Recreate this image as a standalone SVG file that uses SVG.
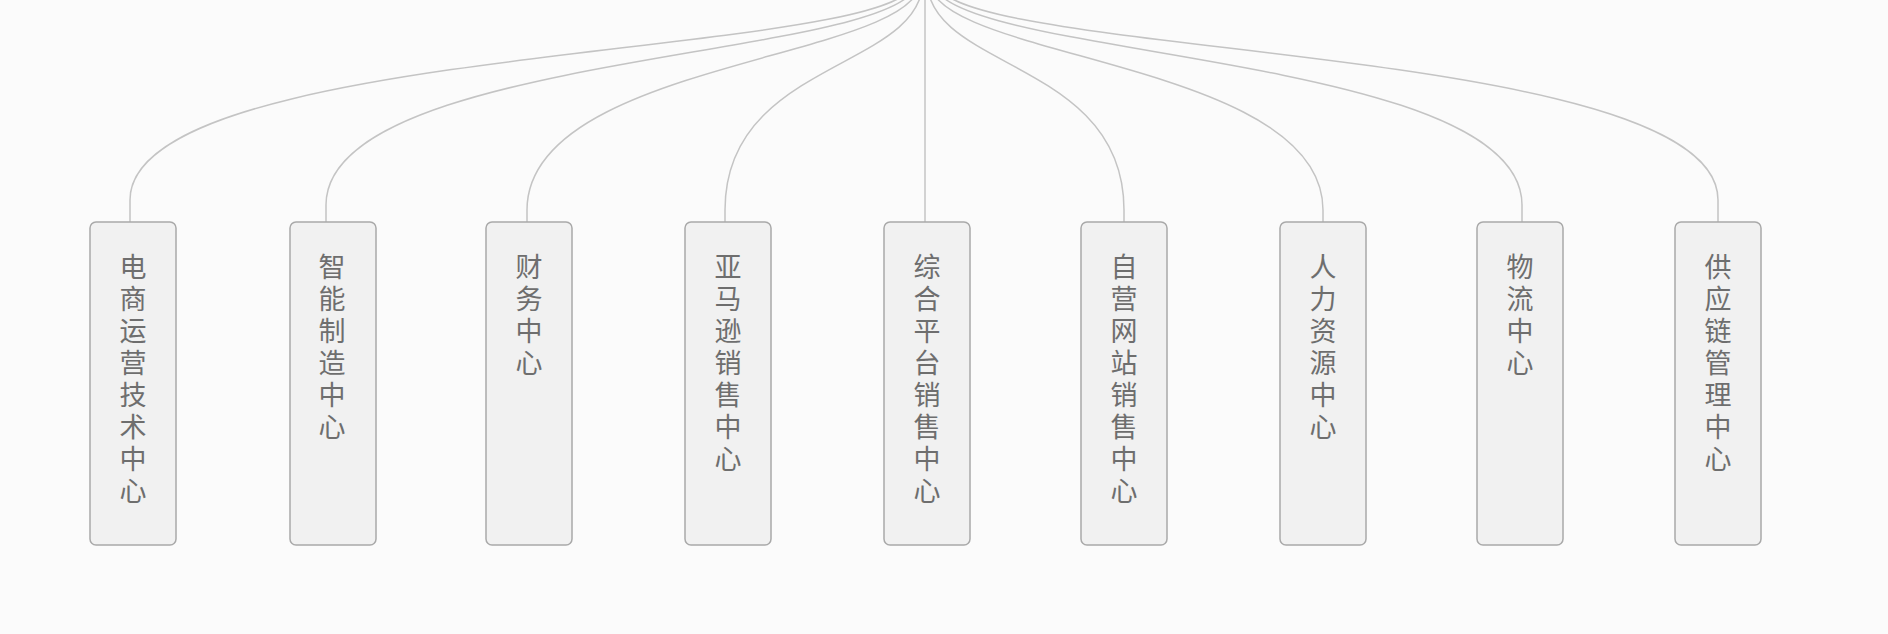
<svg xmlns="http://www.w3.org/2000/svg" width="1888" height="634" viewBox="0 0 1888 634">
<style>
.bg{fill:#fbfbfb}
.c{fill:none;stroke:#c4c4c4;stroke-width:1.5}
.n rect{fill:#f1f1f1;stroke:#a9a9a9;stroke-width:1.5}
.n text{font-family:"Noto Sans CJK SC","Noto Sans",sans-serif;font-size:27px;fill:#6e6e6e;text-anchor:start;writing-mode:vertical-rl;letter-spacing:5px;dominant-baseline:central}
</style>
<rect class="bg" width="1888" height="634"/>
<g id="connectors">
<path class="c" d="M915,-20 C915,60 130,40 130,200 L130,222"/>
<path class="c" d="M918,-20 C918,60 326,50 326,205 L326,222"/>
<path class="c" d="M921,-20 C921,60 527,60 527,210 L527,222"/>
<path class="c" d="M923,-20 C923,70 725,60 725,210 L725,222"/>
<path class="c" d="M925,-20 L925,222"/>
<path class="c" d="M927,-20 C927,70 1124,60 1124,210 L1124,222"/>
<path class="c" d="M929,-20 C929,60 1323,60 1323,210 L1323,222"/>
<path class="c" d="M932,-20 C932,60 1522,50 1522,205 L1522,222"/>
<path class="c" d="M935,-20 C935,60 1718,40 1718,200 L1718,222"/>
</g>
<g id="n1" class="n"><rect x="90" y="222" width="86" height="323" rx="6"/><text x="133" y="253">电商运营技术中心</text></g>
<g id="n2" class="n"><rect x="290" y="222" width="86" height="323" rx="6"/><text x="332" y="253">智能制造中心</text></g>
<g id="n3" class="n"><rect x="486" y="222" width="86" height="323" rx="6"/><text x="529" y="253">财务中心</text></g>
<g id="n4" class="n"><rect x="685" y="222" width="86" height="323" rx="6"/><text x="728" y="253">亚马逊销售中心</text></g>
<g id="n5" class="n"><rect x="884" y="222" width="86" height="323" rx="6"/><text x="927" y="253">综合平台销售中心</text></g>
<g id="n6" class="n"><rect x="1081" y="222" width="86" height="323" rx="6"/><text x="1124" y="253">自营网站销售中心</text></g>
<g id="n7" class="n"><rect x="1280" y="222" width="86" height="323" rx="6"/><text x="1323" y="253">人力资源中心</text></g>
<g id="n8" class="n"><rect x="1477" y="222" width="86" height="323" rx="6"/><text x="1520" y="253">物流中心</text></g>
<g id="n9" class="n"><rect x="1675" y="222" width="86" height="323" rx="6"/><text x="1718" y="253">供应链管理中心</text></g>
</svg>
